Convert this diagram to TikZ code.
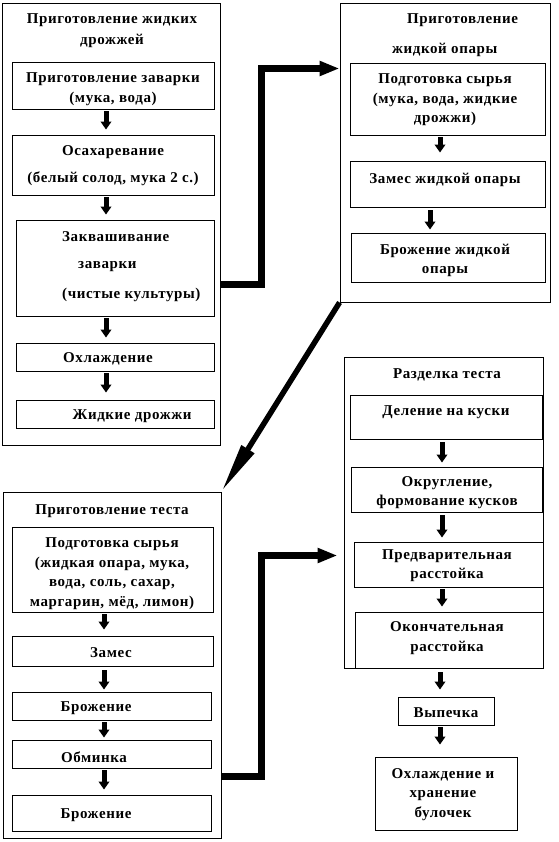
\documentclass[tikz,border=0pt]{standalone}
\usepackage{fontspec}
\setmainfont{Liberation Serif}[LetterSpace=4.0]
\usetikzlibrary{arrows.meta,fit}
\tikzset{
  box/.style={draw, line width=0.9pt, inner sep=0pt, rectangle},
  txt/.style={font=\bfseries\fontsize{15}{19.5}\selectfont, align=center, inner sep=0pt, yshift=-2pt},
  sarr/.style={line width=5pt, -{Triangle[width=10.5pt,length=8pt]}, shorten <=2pt, shorten >=5pt},
  barr/.style={line width=7pt, -{Triangle[width=14pt,length=20pt]}},
  darr/.style={line width=5.5pt, -{Triangle[width=14pt,length=50pt]}}
}
\begin{document}
\begin{tikzpicture}[x=1pt,y=-1pt]
\useasboundingbox (0,0) rectangle (558,842);
% group A
\node[box, fit={(2,3) (220,445)}] (gA) {};
\node[box, fit={(12,62) (214,109)}] (A1) {};
\node[box, fit={(12,135) (214,195)}] (A2) {};
\node[box, fit={(16,220) (214,316)}] (A3) {};
\node[box, fit={(16,343) (214,371)}] (A4) {};
\node[box, fit={(16,400) (214,428)}] (A5) {};
\node[txt] (Ah) at (112,28.5) {Приготовление жидких\\[1.5pt]дрожжей};
\node[txt] (A1t) at (113,87) {Приготовление заварки\\(мука, вода)};
\node[txt] (A2t) at (113,163.5) {Осахаревание\\[7.5pt](белый солод, мука 2 с.)};
\node[txt, align=left, anchor=west] (A3t) at (62,264.5) {Заквашивание\\[7.5pt]\hspace*{16pt}заварки\\[10.5pt](чистые культуры)};
\node[txt] (A4t) at (108,357) {Охлаждение};
\node[txt] (A5t) at (132,414) {Жидкие дрожжи};
% group B
\node[box, fit={(340,3) (550,302)}] (gB) {};
\node[box, fit={(350,63) (545,135)}] (B1) {};
\node[box, fit={(350,161) (545,207)}] (B2) {};
\node[box, fit={(351,233) (545,282)}] (B3) {};
\node[txt, align=left, anchor=west] (Bh) at (392,33) {\hspace*{15pt}Приготовление\\[10.5pt]жидкой опары};
\node[txt] (B1t) at (445,98) {Подготовка сырья\\(мука, вода, жидкие\\дрожжи)};
\node[txt] (B2t) at (445,178) {Замес жидкой опары};
\node[txt] (B3t) at (445,258.5) {Брожение жидкой\\опары};
% group C
\node[box, fit={(3,492) (221,838)}] (gC) {};
\node[box, fit={(12,527) (213,612)}] (C1) {};
\node[box, fit={(12,636) (213,666)}] (C2) {};
\node[box, fit={(12,692) (211,720)}] (C3) {};
\node[box, fit={(12,740) (211,768)}] (C4) {};
\node[box, fit={(12,795) (211,831)}] (C5) {};
\node[txt] (Ch) at (112,509) {Приготовление теста};
\node[txt] (C1t) at (112,571.5) {Подготовка сырья\\(жидкая опара, мука,\\вода, соль, сахар,\\маргарин, мёд, лимон)};
\node[txt] (C2t) at (111,651) {Замес};
\node[txt] (C3t) at (96,706) {Брожение};
\node[txt] (C4t) at (94,755) {Обминка};
\node[txt] (C5t) at (96,813) {Брожение};
% group D
\node[box, fit={(344,357) (543,668)}] (gD) {};
\node[box, fit={(350,395) (542,439)}] (D1) {};
\node[box, fit={(351,467) (542,512)}] (D2) {};
\node[box, fit={(354,542) (543,587)}] (D3) {};
\node[box, fit={(355,612) (543,668)}] (D4) {};
\node[box, fit={(398,697) (494,725)}] (D5) {};
\node[box, fit={(375,757) (517,830)}] (D6) {};
\node[txt] (Dh) at (447,373) {Разделка теста};
\node[txt] (D1t) at (446,410) {Деление на куски};
\node[txt] (D2t) at (447,490.5) {Округление,\\формование кусков};
\node[txt] (D3t) at (447,563.5) {Предварительная\\расстойка};
\node[txt] (D4t) at (447,636) {Окончательная\\расстойка};
\node[txt] (D5t) at (446,711) {Выпечка};
\node[txt] (D6t) at (443,792.5) {Охлаждение и\\хранение\\булочек};
% small arrows
\draw[sarr] (A1.south -| 106,0) -- (A2.north -| 106,0);
\draw[sarr] (A2.south -| 106,0) -- (A3.north -| 106,0);
\draw[sarr] (A3.south -| 106,0) -- (A4.north -| 106,0);
\draw[sarr, shorten >=7pt] (A4.south -| 106,0) -- (A5.north -| 106,0);
\draw[sarr, shorten >=8pt] (B1.south -| 440,0) -- (B2.north -| 440,0);
\draw[sarr, shorten <=3pt, shorten >=3pt] (B2.south -| 430,0) -- (B3.north -| 430,0);
\draw[sarr, shorten >=6pt] (C1.south -| 104,0) -- (C2.north -| 104,0);
\draw[sarr, shorten <=4pt, shorten >=2pt] (C2.south -| 104,0) -- (C3.north -| 104,0);
\draw[sarr, shorten >=2pt] (C3.south -| 104,0) -- (C4.north -| 104,0);
\draw[sarr] (C4.south -| 104,0) -- (C5.north -| 104,0);
\draw[sarr, shorten <=3pt, shorten >=4pt] (D1.south -| 442,0) -- (D2.north -| 442,0);
\draw[sarr, shorten <=3pt, shorten >=4pt] (D2.south -| 442,0) -- (D3.north -| 442,0);
\draw[sarr, shorten <=2pt, shorten >=5pt] (D3.south -| 442,0) -- (D4.north -| 442,0);
\draw[sarr, shorten <=4pt, shorten >=7pt] (D4.south -| 440,0) -- (D5.north -| 440,0);
\draw[sarr, shorten <=2pt, shorten >=12pt] (D5.south -| 440,0) -- (D6.north -| 440,0);
% big arrows
\draw[barr] (gA.east |- 0,284.5) -- (261.5,284.5) -- (261.5,68.5) -- (gB.west |- 0,68.5);
\draw[darr] (gB.south west) -- (gC.north east);
\draw[barr, shorten >=6pt] (gC.east |- 0,776) -- (261.5,776) -- (261.5,555.5) -- (gD.west |- 0,555.5);
\end{tikzpicture}
\end{document}
